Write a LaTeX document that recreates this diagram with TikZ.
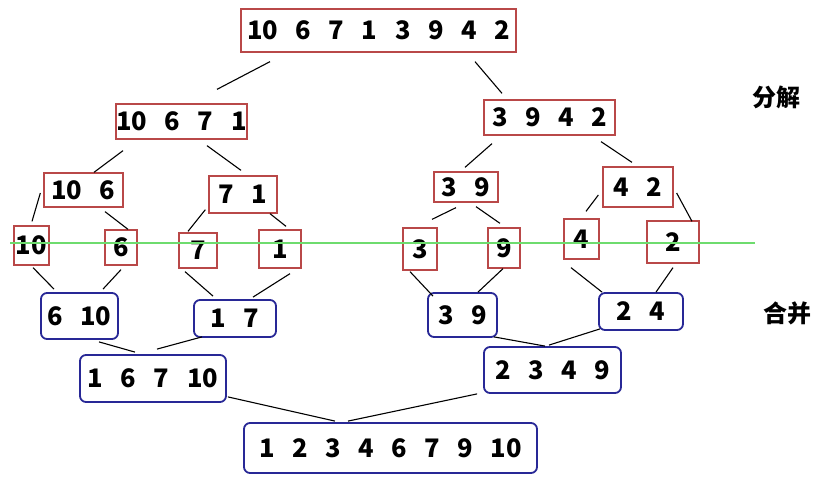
\documentclass[tikz,border=0pt]{standalone}
\usepackage{fontspec}
\setmainfont{Noto Sans CJK SC}[WordSpace=3]
\usepackage{xcolor}

\definecolor{splitred}{RGB}{185,72,72}
\definecolor{mergeblue}{RGB}{40,40,150}
\definecolor{cutgreen}{RGB}{110,220,110}

\tikzset{
  digits/.style={font=\fontsize{25.5}{30}\selectfont\bfseries, inner sep=0pt},
  splitbox/.style={digits, draw=splitred, line width=1.3pt, fill=white},
  mergebox/.style={digits, draw=mergeblue, line width=1.8pt, rounded corners=6pt, fill=white},
  link/.style={line width=1.1pt},
  tag/.style={font=\fontsize{24}{28}\selectfont\bfseries}
}

\begin{document}
\begin{tikzpicture}[x=1pt,y=-1pt]
\useasboundingbox[fill=white] (0,0) rectangle (836,497);

% 分解
\node[splitbox, minimum width=275, minimum height=43] (top) at (378.5,30.5) {10 6 7 1 3 9 4 2};
\node[splitbox, minimum width=131, minimum height=35] (l) at (181.5,121.5) {10 6 7 1};
\node[splitbox, minimum width=131, minimum height=35] (r) at (549.5,117.5) {3 9 4 2};
\node[splitbox, minimum width=79, minimum height=34] (ll) at (83.5,190) {10 6};
\node[splitbox, minimum width=68, minimum height=37] (lr) at (243,194.5) {7 1};
\node[splitbox, minimum width=64, minimum height=30] (rl) at (466,187) {3 9};
\node[splitbox, minimum width=70, minimum height=40] (rr) at (638,187) {4 2};

% 单个元素
\node[splitbox, minimum width=35, minimum height=39] (a1) at (31.5,245.5) {10};
\node[splitbox, minimum width=32, minimum height=35] (a2) at (121,247.5) {6};
\node[splitbox, minimum width=38, minimum height=35] (a3) at (198,250.5) {7};
\node[splitbox, minimum width=42, minimum height=38] (a4) at (280,249) {1};
\node[splitbox, minimum width=34, minimum height=42] (a5) at (420,249) {3};
\node[splitbox, minimum width=32, minimum height=40] (a6) at (504,248) {9};
\node[splitbox, minimum width=35, minimum height=40] (a7) at (581.5,239) {4};
\node[splitbox, minimum width=52, minimum height=42] (a8) at (673,242) {2};

% 合并
\node[mergebox, minimum width=77, minimum height=46] (m1) at (79.5,316) {6 10};
\node[mergebox, minimum width=82, minimum height=37] (m2) at (235,318.5) {1 7};
\node[mergebox, minimum width=69, minimum height=44] (m3) at (462.5,315) {3 9};
\node[mergebox, minimum width=84, minimum height=37] (m4) at (641,311.5) {2 4};
\node[mergebox, minimum width=146, minimum height=47] (n1) at (153,378.5) {1 6 7 10};
\node[mergebox, minimum width=137, minimum height=46] (n2) at (552.5,370) {2 3 4 9};
\node[mergebox, minimum width=293, minimum height=50] (fin) at (390.5,448) {1 2 3 4 6 7 9 10};

% 分解的连线
\draw[link] ([shift={(-108.5,9)}]top.south) -- ([shift={(35.5,-14)}]l.north);
\draw[link] ([shift={(96.5,9)}]top.south) -- ([shift={(-47.5,-6)}]r.north);
\draw[link] ([shift={(-58.5,11)}]l.south) -- ([shift={(10.5,0)}]ll.north);
\draw[link] ([shift={(25.5,6)}]l.south) -- ([shift={(-2,-5)}]lr.north);
\draw[link] ([shift={(-57.5,8)}]r.south) -- ([shift={(-1,-4)}]rl.north);
\draw[link] ([shift={(51.5,6)}]r.south) -- ([shift={(-6,-4)}]rr.north);
\draw[link] ([shift={(-3,3)}]ll.west) -- ([shift={(0.5,-4)}]a1.north);
\draw[link] ([shift={(21.5,4)}]ll.south) -- ([shift={(7,0)}]a2.north);
\draw[link] ([shift={(-3,-4)}]lr.south west) -- ([shift={(-10,-1)}]a3.north);
\draw[link] ([shift={(27,0)}]lr.south) -- ([shift={(6,-3)}]a4.north);
\draw[link] ([shift={(-10,5)}]rl.south) -- ([shift={(12,-8)}]a5.north);
\draw[link] ([shift={(10,4)}]rl.south) -- ([shift={(-4,-4)}]a6.north);
\draw[link] ([shift={(-4,8)}]rr.west) -- ([shift={(4.5,-7)}]a7.north);
\draw[link] ([shift={(3,6)}]rr.east) -- ([shift={(19,1)}]a8.north);

% 合并的连线
\draw[link] ([shift={(1.5,2)}]a1.south) -- ([shift={(-25.5,-3)}]m1.north);
\draw[link] ([shift={(0,4)}]a2.south) -- ([shift={(23.5,-3)}]m1.north);
\draw[link] ([shift={(-13,3)}]a3.south) -- ([shift={(-22,-3)}]m2.north);
\draw[link] ([shift={(10,5)}]a4.south) -- ([shift={(18,-2)}]m2.north);
\draw[link] ([shift={(-10,1)}]a5.south) -- ([shift={(-29.5,4)}]m3.north);
\draw[link] ([shift={(-1,0)}]a6.south) -- ([shift={(15.5,0)}]m3.north);
\draw[link] ([shift={(-10.5,8)}]a7.south) -- ([shift={(-39,0)}]m4.north);
\draw[link] ([shift={(0,4)}]a8.south) -- ([shift={(15,0)}]m4.north);
\draw[link] ([shift={(19.5,2)}]m1.south) -- ([shift={(-18,-2)}]n1.north);
\draw[link] ([shift={(-33,-1)}]m2.south) -- ([shift={(4,-5)}]n1.north);
\draw[link] ([shift={(31.5,-1)}]m3.south) -- ([shift={(-7.5,0)}]n2.north);
\draw[link] ([shift={(-41,-2)}]m4.south) -- ([shift={(-3.5,-1)}]n2.north);
\draw[link] ([shift={(1,-6)}]n1.south east) -- ([shift={(-55.5,-1)}]fin.north);
\draw[link] ([shift={(-6,0)}]n2.south west) -- ([shift={(-42.5,-1)}]fin.north);

% 分界线
\coordinate (cutl) at (10,243);
\coordinate (cutr) at (755,243);
\draw[cutgreen, line width=1.5pt] (cutl) -- (cutr);

% 标签
\node[tag] (splitlbl) at (776,97) {分解};
\node[tag] (mergelbl) at (787,313) {合并};
\end{tikzpicture}
\end{document}
